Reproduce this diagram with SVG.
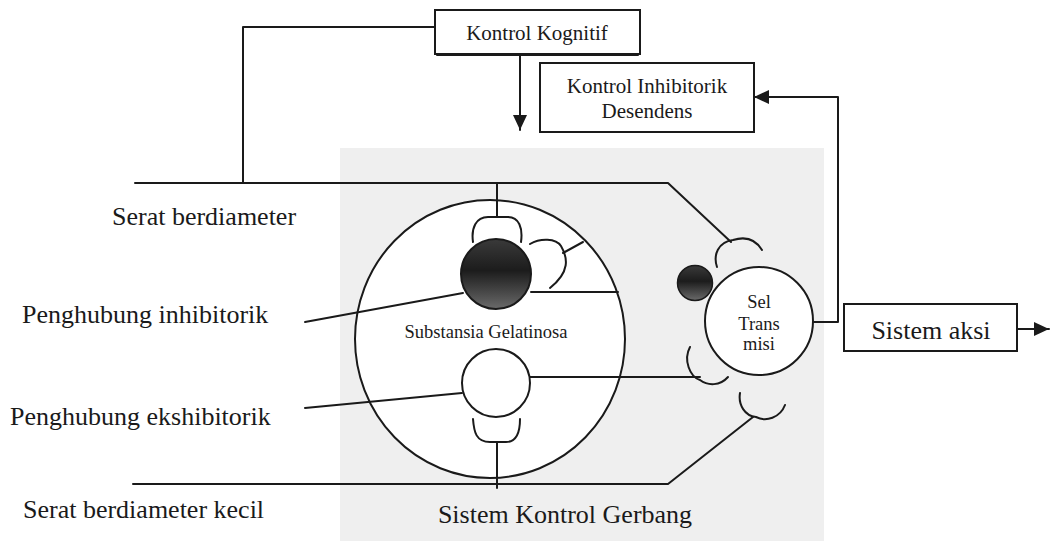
<svg xmlns="http://www.w3.org/2000/svg" width="1050" height="541" viewBox="0 0 1050 541">
<style>
.ln{fill:none;stroke:#1a1a1a;stroke-width:2;stroke-linecap:round;stroke-linejoin:round}
.bx{fill:#fff;stroke:#1a1a1a;stroke-width:2}
.t{font-family:"Liberation Serif","Times New Roman",serif;fill:#1a1a1a}
.lbl{font-size:26px}
.sm{font-size:18.5px}
.md{font-size:21px}
</style>
<defs>
<marker id="ah" markerWidth="16" markerHeight="14" refX="15" refY="7" orient="auto" markerUnits="userSpaceOnUse">
<path d="M0,0 L15,7 L0,14 Z" fill="#1a1a1a"/>
</marker>
<linearGradient id="dark" x1="0" y1="0" x2="0" y2="1">
<stop offset="0" stop-color="#3a3a3a"/>
<stop offset="0.45" stop-color="#1c1c1c"/>
<stop offset="1" stop-color="#6a6a6a"/>
</linearGradient>
</defs>
<rect width="1050" height="541" fill="#fff"/>
<rect id="gerbang-bg" x="340" y="148" width="484" height="393" fill="#efefef"/>

<g id="kontrol-kognitif">
<rect class="bx" x="435" y="10" width="205" height="44"/>
<line class="ln" x1="437" y1="55" x2="638" y2="55" stroke-width="1.5"/>
<text class="t md" x="537" y="40" text-anchor="middle">Kontrol Kognitif</text>
</g>

<g id="kontrol-inhibitorik">
<rect class="bx" x="540" y="63" width="214" height="69"/>
<text class="t md" x="647" y="93" text-anchor="middle">Kontrol Inhibitorik</text>
<text class="t md" x="647" y="118" text-anchor="middle">Desendens</text>
</g>

<g id="substansia-gelatinosa">
<ellipse cx="490" cy="339" rx="135" ry="139" fill="#fff" stroke="#1a1a1a" stroke-width="2"/>
<text class="t sm" x="486" y="338" text-anchor="middle">Substansia Gelatinosa</text>
</g>

<g id="penghubung-inhibitorik-sel">
<circle cx="496" cy="274" r="35" fill="url(#dark)" stroke="#1a1a1a" stroke-width="2"/>
</g>

<g id="penghubung-ekshibitorik-sel">
<circle cx="496" cy="383" r="34" fill="#fff" stroke="#1a1a1a" stroke-width="2"/>
</g>

<g id="penghubung-kecil">
<circle cx="695" cy="283" r="17.5" fill="url(#dark)" stroke="#1a1a1a" stroke-width="1.5"/>
</g>

<g id="sel-transmisi">
<circle cx="759" cy="321" r="54" fill="#fff" stroke="#1a1a1a" stroke-width="2"/>
<text class="t sm" x="759" y="308" text-anchor="middle">Sel</text>
<text class="t sm" x="759" y="330" text-anchor="middle">Trans</text>
<text class="t sm" x="759" y="350" text-anchor="middle">misi</text>
</g>

<g id="sistem-aksi">
<rect class="bx" x="844" y="304" width="173" height="47"/>
<text class="t lbl" x="931" y="339" text-anchor="middle">Sistem aksi</text>
</g>

<g id="sinaps">
<path class="ln" d="M473,242 C471,228 476,217 488,217 L508,217 C519,217 523,228 521,242"/>
<path class="ln" d="M530,244 C540,238 556,238 561,246 C568,258 570,272 550,288"/>
<path class="ln" d="M473,419 C474,432 476,442 490,442 L506,442 C517,442 520,432 520,419"/>
<path class="ln" d="M717,267 C713,255 718,242 733,240 C746,236 756,240 762,250"/>
<path class="ln" d="M690,347 C683,360 690,377 700,380 C708,386 720,386 728,377"/>
<path class="ln" d="M740,393 C738,405 745,416 756,417 C766,422 780,418 785,405"/>
</g>

<g id="connectors">
<polyline class="ln" points="435,27 243,27 243,183"/>
<line class="ln" x1="520" y1="56" x2="520" y2="130" marker-end="url(#ah)"/>
<polyline class="ln" points="813,322 838,322 838,97 754,97" marker-end="url(#ah)"/>
<line class="ln" x1="1017" y1="329" x2="1049" y2="329" marker-end="url(#ah)"/>
<polyline class="ln" points="135,183 668,183 731,242"/>
<line class="ln" x1="497" y1="183" x2="497" y2="217"/>
<polyline class="ln" points="133,484 668,484 753,417"/>
<line class="ln" x1="497" y1="442" x2="497" y2="488"/>
<line class="ln" x1="305" y1="322" x2="463" y2="293"/>
<line class="ln" x1="305" y1="408" x2="462" y2="393"/>
<line class="ln" x1="531" y1="292" x2="618" y2="292"/>
<line class="ln" x1="530" y1="377" x2="700" y2="377"/>
<line class="ln" x1="563" y1="253" x2="583" y2="242"/>
</g>

<g id="labels">
<text class="t lbl" x="112" y="225">Serat berdiameter</text>
<text class="t lbl" x="22" y="323">Penghubung inhibitorik</text>
<text class="t lbl" x="10" y="425">Penghubung ekshibitorik</text>
<text class="t lbl" x="23" y="518">Serat berdiameter kecil</text>
<text class="t lbl" x="565" y="523" text-anchor="middle">Sistem Kontrol Gerbang</text>
</g>
</svg>
